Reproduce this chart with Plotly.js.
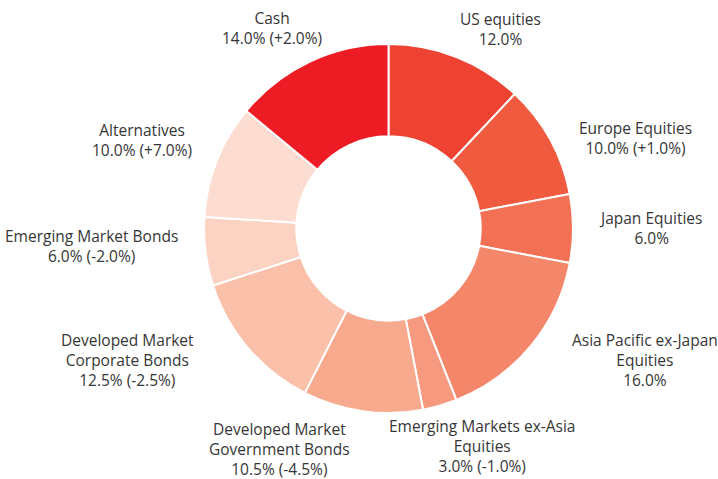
<!DOCTYPE html>
<html>
<head>
<meta charset="utf-8">
<script src="https://cdn.plot.ly/plotly-3.0.1.min.js"></script>
<style>html,body{margin:0;padding:0;background:#fff;}#chart{width:718px;height:479px;}</style>
</head>
<body>
<div id="chart"></div>
<script>
const labels = ["US equities", "Europe Equities", "Japan Equities", "Asia Pacific ex-Japan<br>Equities",
  "Emerging Markets ex-Asia<br>Equities", "Developed Market<br>Government Bonds",
  "Developed Market<br>Corporate Bonds", "Emerging Market Bonds", "Alternatives", "Cash"];
const values = [12.0, 10.0, 6.0, 16.0, 3.0, 10.5, 12.5, 6.0, 10.0, 14.0];
const changes = ["", "+1.0%", "", "", "-1.0%", "-4.5%", "-2.5%", "-2.0%", "+7.0%", "+2.0%"];
const colors = ["#EE4232", "#F05B40", "#F27053", "#F4876A", "#F6997F", "#F8AA8F",
  "#FAC0A9", "#FCD2C2", "#FDDDD1", "#ED1C24"];

// layout-only label nudges (pixels), kept apart from the data
const labelNudge = [[14, 4], [1, 15], [-13, -1], [27, -8], [5, 8], [-67, 4], [-40, -10], [12, -10], [9, -8], [0, -3]];

const W = 718, H = 479;
const domX = [0.2841, 0.7981], domY = [0.1378, 0.9081];
const FONT = "Open Sans, Noto Sans, sans-serif";
const FS = 15.5;

const cx = (domX[0] + domX[1]) / 2 * W;
const cy = H - (domY[0] + domY[1]) / 2 * H;
const r = Math.min((domX[1] - domX[0]) * W, (domY[1] - domY[0]) * H) / 2;
const RA = r + 40, RB = r + 34;

const ctx = document.createElement("canvas").getContext("2d");
ctx.font = FS + "px 'Open Sans'";

const total = values.reduce((a, b) => a + b, 0);
let cum = 0;
const annotations = values.map((v, i) => {
  const mid = (cum + v / 2) / total * 2 * Math.PI;
  cum += v;
  const text = labels[i] + "<br>" + v.toFixed(1) + "%" + (changes[i] ? " (" + changes[i] + ")" : "");
  const lines = text.split("<br>");
  const w = Math.max(...lines.map(l => ctx.measureText(l).width));
  const s = Math.sin(mid), c = Math.cos(mid);
  const px = cx + s * RA + s * w / 2 + labelNudge[i][0];
  const py = cy - c * RB + labelNudge[i][1];
  return {
    x: px / W, y: 1 - py / H, xref: "paper", yref: "paper",
    xanchor: "center", yanchor: "middle", showarrow: false, align: "center",
    text: text, font: {family: FONT, size: FS, color: "#363636"}
  };
});

const trace = {
  type: "pie", labels: labels, values: values, sort: false, direction: "clockwise",
  rotation: 0, hole: 0.5, textinfo: "none", hoverinfo: "none",
  marker: {colors: colors, line: {color: "#ffffff", width: 2}},
  domain: {x: domX, y: domY}
};

Plotly.newPlot("chart", [trace], {
  width: W, height: H, margin: {l: 0, r: 0, t: 0, b: 0},
  showlegend: false, paper_bgcolor: "#ffffff", annotations: annotations,
  font: {family: FONT}
}, {staticPlot: true});
</script>
</body>
</html>
